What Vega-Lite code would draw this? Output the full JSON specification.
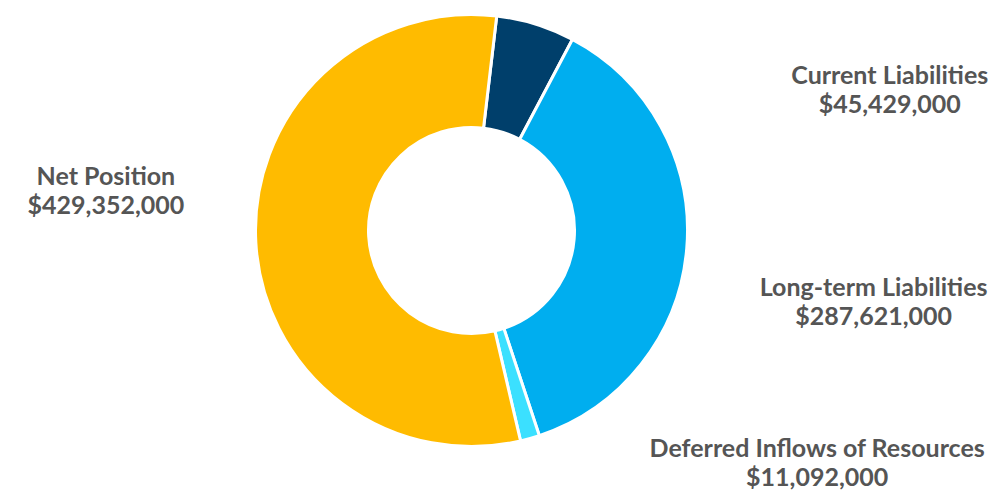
{
  "$schema": "https://vega.github.io/schema/vega-lite/v6.json",
  "width": 943,
  "height": 461,
  "autosize": {"type": "none"},
  "padding": {"left": 0, "top": 0, "right": 52, "bottom": 35},
  "background": "white",
  "config": {"view": {"stroke": null}},
  "data": {
    "values": [
      {"category": "Current Liabilities", "value": 45429000, "rank": 1},
      {"category": "Long-term Liabilities", "value": 287621000, "rank": 2},
      {"category": "Deferred Inflows of Resources", "value": 11092000, "rank": 3},
      {"category": "Net Position", "value": 429352000, "rank": 4}
    ]
  },
  "transform": [
    {"calculate": "datum.category + '\\n' + format(datum.value, '$,')", "as": "label"}
  ],
  "encoding": {
    "theta": {"field": "value", "type": "quantitative", "stack": true, "scale": {"range": [0.117, 6.4002]}},
    "order": {"field": "rank", "type": "quantitative", "sort": "ascending"}
  },
  "layer": [
    {
      "mark": {"type": "arc", "outerRadius": 216, "innerRadius": 103, "stroke": "white", "strokeWidth": 3},
      "encoding": {
        "color": {
          "field": "category",
          "type": "nominal",
          "scale": {
            "domain": ["Current Liabilities", "Long-term Liabilities", "Deferred Inflows of Resources", "Net Position"],
            "range": ["#003F6B", "#00AEEF", "#3BE0FF", "#FFBB00"]
          },
          "legend": null
        }
      }
    },
    {
      "mark": {
        "type": "text",
        "radius": 250,
        "font": "Lato",
        "fontWeight": "bold",
        "fontSize": 25,
        "lineHeight": 29,
        "lineBreak": "\n",
        "color": "#555555",
        "align": "center",
        "baseline": "middle",
        "dx": {"expr": "datum.category === 'Current Liabilities' ? 344 : datum.category === 'Long-term Liabilities' ? 153 : datum.category === 'Deferred Inflows of Resources' ? 278 : -116"},
        "dy": {"expr": "datum.category === 'Current Liabilities' ? 84 : datum.category === 'Long-term Liabilities' ? 37 : datum.category === 'Deferred Inflows of Resources' ? -22 : -68"}
      },
      "encoding": {
        "text": {"field": "label", "type": "nominal"}
      }
    }
  ]
}
